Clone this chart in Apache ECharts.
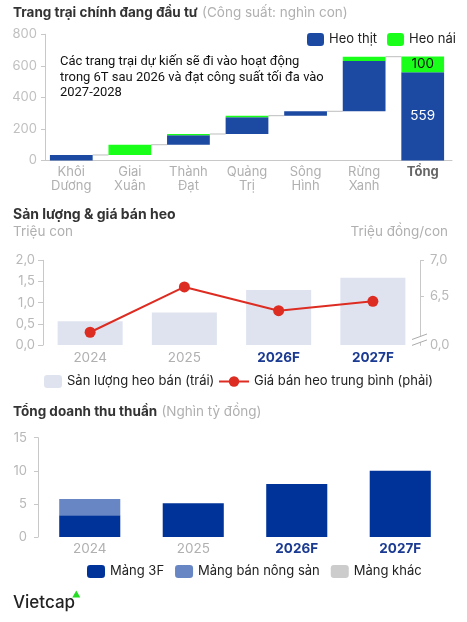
<!DOCTYPE html>
<html><head><meta charset="utf-8">
<script src="https://cdn.jsdelivr.net/npm/echarts@6/dist/echarts.min.js"></script>
<style>html,body{margin:0;padding:0;background:#fff}#c{width:467px;height:622px}</style>
</head><body><div id="c"></div>
<script>
// ---- Data: farms (capacity, thousand heads)
const farmCats = ['Khôi\nDương','Giai\nXuân','Thành\nĐạt','Quảng\nTrị','Sông\nHình','Rừng\nXanh','Tổng'];
const heoThit = [35, 0, 60, 106, 28, 318, 559];
const heoNai  = [0, 65, 8, 10, 0, 28, 100];
const farmTicks = [0, 200, 400, 600, 800];

// ---- Data: volume & price
const years = ['2024', '2025', '2026F', '2027F'];
const sanLuong = [0.56, 0.77, 1.30, 1.59];
const giaBan = [6.0, 6.63, 6.30, 6.43];
const leftTicks = [0, 0.5, 1.0, 1.5, 2.0];
const rightTicks = [0, 6.5, 7.0];

// ---- Data: revenue
const mang3F = [3.3, 5.1, 8.0, 10.0];
const mangNongSan = [2.45, 0, 0, 0];
const mangKhac = [0, 0, 0, 0];
const revTicks = [0, 5, 10, 15];

const noteLines = ['Các trang trại dự kiến sẽ đi vào hoạt động',
                   'trong 6T sau 2026 và đạt công suất tối đa vào',
                   '2027-2028'];

const FF = 'Inter';
const NOTE_FF = 'Roboto';
const BLUE = '#1c4aa2', GREEN = '#1aff1a';
const totalIdx = farmCats.length - 1;

// fit the note into the same width as in the reference box
const mctx = document.createElement('canvas').getContext('2d');
mctx.font = '13.5px ' + NOTE_FF;
const noteW = Math.max.apply(null, noteLines.map(l => mctx.measureText(l).width));
const noteSize = noteW > 264 ? 13.5 * 264 / noteW : 13.5;

// waterfall bases built from the data
const base = [], tops = [];
let cum = 0;
farmCats.forEach((c, i) => {
  if (i === totalIdx) { base.push(0); tops.push(heoThit[i] + heoNai[i]); }
  else { base.push(cum); cum += heoThit[i] + heoNai[i]; tops.push(cum); }
});
const connectors = tops.slice(0, totalIdx).map((t, i) => [i, t]);

const fmt1 = v => v.toFixed(1).replace('.', ',');
const yearLabel = {
  formatter: v => v.endsWith('F') ? '{f|' + v + '}' : '{n|' + v + '}',
  rich: {
    f: { color: '#1b3a92', fontWeight: 'bold', fontSize: 13.5, fontFamily: FF },
    n: { color: '#b0b0b0', fontSize: 13.5, fontFamily: FF }
  }
};

const chart = echarts.init(document.getElementById('c'), null, { renderer: 'canvas' });
const option = {
  animation: false,
  textStyle: { fontFamily: FF },
  title: [
    { left: 13, top: 4, padding: 0, text: '{b|Trang trại chính đang đầu tư} {g|(Công suất: nghìn con)}',
      textStyle: { rich: { b: { fontSize: 13.5, fontWeight: 'bold', color: '#333', fontFamily: FF },
                           g: { fontSize: 13.5, fontWeight: 'normal', color: '#b0b0b0', fontFamily: FF } } } },
    { left: 60, top: 54.5, padding: 0, text: noteLines.join('\n'),
      textStyle: { fontSize: noteSize, fontWeight: 'normal', lineHeight: 15.5, color: '#111', fontFamily: NOTE_FF } },
    { left: 13, top: 208, padding: 0, text: 'Sản lượng & giá bán heo',
      textStyle: { fontSize: 14, fontWeight: 'bold', color: '#333', fontFamily: FF } },
    { left: 13, top: 225, padding: 0, text: 'Triệu con',
      textStyle: { fontSize: 13.5, fontWeight: 'normal', color: '#b0b0b0', fontFamily: FF } },
    { right: 19, top: 225, padding: 0, text: 'Triệu đồng/con',
      textStyle: { fontSize: 13.5, fontWeight: 'normal', color: '#b0b0b0', fontFamily: FF } },
    { left: 13, top: 403, padding: 0, text: '{b|Tổng doanh thu thuần} {g|(Nghìn tỷ đồng)}',
      textStyle: { rich: { b: { fontSize: 13.5, fontWeight: 'bold', color: '#333', fontFamily: FF },
                           g: { fontSize: 13.5, fontWeight: 'normal', color: '#b0b0b0', fontFamily: FF } } } },
    { left: 13, top: 594, padding: 0, text: 'Vietcap',
      textStyle: { fontSize: 17, fontWeight: 500, color: '#222', fontFamily: FF } }
  ],
  legend: [
    { left: 307, top: 33, padding: 0, itemWidth: 17, itemHeight: 13, itemGap: 10,
      data: ['Heo thịt', 'Heo nái'], textStyle: { fontSize: 13, color: '#222', fontFamily: FF } },
    { left: 44, top: 375, padding: 0, itemWidth: 18, itemHeight: 13,
      data: ['Sản lượng heo bán (trái)'], textStyle: { fontSize: 13, color: '#222', fontFamily: FF } },
    { left: 218, top: 375, padding: 0, itemWidth: 30, itemHeight: 13,
      data: ['Giá bán heo trung bình (phải)'], textStyle: { fontSize: 13, color: '#222', fontFamily: FF } },
    { left: 87, top: 565, padding: 0, itemWidth: 18, itemHeight: 13, itemGap: 11,
      data: ['Mảng 3F', 'Mảng bán nông sản', 'Mảng khác'], textStyle: { fontSize: 13, color: '#222', fontFamily: FF } }
  ],
  grid: [
    { left: 42, top: 34.3, width: 410, height: 126.2 },
    { left: 43, top: 260.3, width: 377, height: 84.7 },
    { left: 38, top: 437.7, width: 414, height: 99.3 }
  ],
  xAxis: [
    { type: 'category', gridIndex: 0, data: farmCats,
      axisLine: { show: true, lineStyle: { color: '#c8c8c8' } }, axisTick: { show: false },
      axisLabel: { interval: 0, margin: 5, color: '#b0b0b0', fontSize: 13, lineHeight: 14, fontFamily: FF,
        formatter: v => v === 'Tổng' ? '{t|Tổng}' : v,
        rich: { t: { fontWeight: 'bold', color: '#666', fontSize: 13, fontFamily: FF } } } },
    { type: 'category', gridIndex: 1, data: years,
      axisLine: { show: false }, axisTick: { show: false },
      axisLabel: Object.assign({ interval: 0, margin: 6 }, yearLabel) },
    { type: 'category', gridIndex: 2, data: years,
      axisLine: { show: false }, axisTick: { show: false },
      axisLabel: Object.assign({ interval: 0, margin: 5 }, yearLabel) }
  ],
  yAxis: [
    { type: 'value', gridIndex: 0, min: farmTicks[0], max: farmTicks[farmTicks.length - 1], interval: 200, offset: -3,
      axisLine: { show: true, lineStyle: { color: '#c8c8c8' } },
      axisTick: { show: true, length: 4, lineStyle: { color: '#c8c8c8' } },
      axisLabel: { color: '#c0c0c0', fontSize: 13, margin: 8, fontFamily: FF },
      splitLine: { show: false } },
    { type: 'value', gridIndex: 1, min: leftTicks[0], max: leftTicks[leftTicks.length - 1], interval: 0.5,
      axisLine: { show: true, lineStyle: { color: '#c8c8c8' } },
      axisTick: { show: true, length: 5, lineStyle: { color: '#c8c8c8' } },
      axisLabel: { color: '#b8b8b8', fontSize: 13, margin: 8, formatter: fmt1, fontFamily: FF },
      splitLine: { show: false } },
    { type: 'value', gridIndex: 1, position: 'right', min: 0, max: 7,
      breaks: [{ start: 0.05, end: 5.92, gap: '4%' }],
      breakArea: { show: false },
      axisLine: { show: true, lineStyle: { color: '#c8c8c8' } },
      axisTick: { show: true, length: 4, customValues: rightTicks.slice(1), lineStyle: { color: '#c8c8c8' } },
      axisLabel: { color: '#b8b8b8', fontSize: 13, margin: 10, customValues: rightTicks, formatter: fmt1, fontFamily: FF },
      splitLine: { show: false } },
    { type: 'value', gridIndex: 2, min: revTicks[0], max: revTicks[revTicks.length - 1], interval: 5,
      axisLine: { show: true, lineStyle: { color: '#c8c8c8' } },
      axisTick: { show: true, length: 4, lineStyle: { color: '#c8c8c8' } },
      axisLabel: { color: '#b8b8b8', fontSize: 13, margin: 11, fontFamily: FF },
      splitLine: { show: false } }
  ],
  series: [
    { name: 'base', type: 'bar', xAxisIndex: 0, yAxisIndex: 0, stack: 'w', barWidth: '73%', silent: true,
      itemStyle: { color: 'transparent' }, data: base },
    { name: 'Heo thịt', type: 'bar', xAxisIndex: 0, yAxisIndex: 0, stack: 'w', barWidth: '73%',
      itemStyle: { color: BLUE },
      data: heoThit.map((v, i) => i === totalIdx
        ? { value: v, label: { show: true, position: 'inside', color: '#fff', fontSize: 13.5, fontFamily: FF } }
        : v) },
    { name: 'Heo nái', type: 'bar', xAxisIndex: 0, yAxisIndex: 0, stack: 'w', barWidth: '73%',
      itemStyle: { color: GREEN },
      data: heoNai.map((v, i) => i === totalIdx
        ? { value: v, label: { show: true, position: 'inside', color: '#111', fontSize: 13.5, fontFamily: FF } }
        : v) },
    { name: 'connector', type: 'custom', xAxisIndex: 0, yAxisIndex: 0, silent: true, z: 1,
      encode: { x: 0, y: 1 }, data: connectors,
      renderItem: (params, api) => {
        const i = api.value(0), lvl = api.value(1);
        const p1 = api.coord([i, lvl]), p2 = api.coord([i + 1, lvl]);
        const bw = api.size([1, 0])[0] * 0.73;
        return { type: 'line', shape: { x1: p1[0] + bw / 2, y1: p1[1], x2: p2[0] - bw / 2, y2: p2[1] },
                 style: { stroke: '#bdbdbd', lineWidth: 1 } };
      } },
    { name: 'Sản lượng heo bán (trái)', type: 'bar', xAxisIndex: 1, yAxisIndex: 1, barWidth: '69%',
      itemStyle: { color: '#dfe3ef' }, data: sanLuong },
    { name: 'Giá bán heo trung bình (phải)', type: 'line', xAxisIndex: 1, yAxisIndex: 2,
      symbol: 'circle', symbolSize: 11, lineStyle: { color: '#dd2c22', width: 2 },
      itemStyle: { color: '#dd2c22' }, data: giaBan, z: 5 },
    { name: 'Mảng 3F', type: 'bar', xAxisIndex: 2, yAxisIndex: 3, stack: 'r', barWidth: '59%',
      itemStyle: { color: '#003399' }, data: mang3F },
    { name: 'Mảng bán nông sản', type: 'bar', xAxisIndex: 2, yAxisIndex: 3, stack: 'r', barWidth: '59%',
      itemStyle: { color: '#6886c4' }, data: mangNongSan },
    { name: 'Mảng khác', type: 'bar', xAxisIndex: 2, yAxisIndex: 3, stack: 'r', barWidth: '59%',
      itemStyle: { color: '#cccccc' }, data: mangKhac }
  ]
};
chart.setOption(option);

// decorations: axis-break marks, logo triangle
const axX = 43 + 377;
const yb = chart.convertToPixel({ yAxisIndex: 2 }, 5.92);
const ys = chart.convertToPixel({ yAxisIndex: 2 }, 0.05);
const g = [
  { type: 'polygon', shape: { points: [[76.3, 590.5], [72.3, 597.5], [80.3, 597.5]] }, style: { fill: '#22dd22' } }
];
if (isFinite(yb) && isFinite(ys)) {
  const y1 = yb - 1.5, y2 = ys + 1;
  g.push({ type: 'polygon', z: 10, shape: { points: [[axX - 2, y1 + 1.5], [axX + 2, y1 - 1.5], [axX + 2, y2 - 1.5], [axX - 2, y2 + 1.5]] },
           style: { fill: '#fff' } });
  g.push({ type: 'line', z: 11, shape: { x1: axX - 8, y1: y1 + 3, x2: axX + 7, y2: y1 - 2.5 }, style: { stroke: '#aaa', lineWidth: 1 } });
  g.push({ type: 'line', z: 11, shape: { x1: axX - 8, y1: y2 + 3, x2: axX + 7, y2: y2 - 2.5 }, style: { stroke: '#aaa', lineWidth: 1 } });
}
chart.setOption({ graphic: g });
</script>
</body></html>
